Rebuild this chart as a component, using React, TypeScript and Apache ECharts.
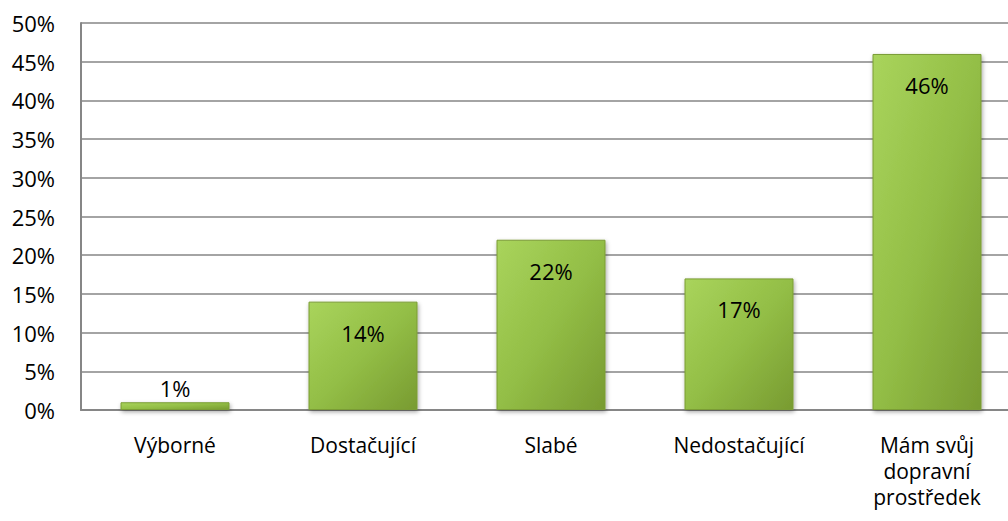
import React, { useEffect, useRef } from "react";
import * as echarts from "echarts";

const categories = ["Výborné", "Dostačující", "Slabé", "Nedostačující", "Mám svůj\ndopravní\nprostředek"];
const values = [1, 14, 22, 17, 46];
const yTicks = [0, 5, 10, 15, 20, 25, 30, 35, 40, 45, 50];

export default function App() {
  const ref = useRef<HTMLDivElement>(null);
  useEffect(() => {
    document.body.style.margin = "0";
    document.body.style.overflow = "hidden";
    const chart = echarts.init(ref.current!, null, { renderer: "svg" });
    const font = "'Open Sans', sans-serif";
    chart.setOption({
      animation: false,
      grid: { left: 81, right: 0, top: 23, bottom: 111, containLabel: false },
      xAxis: {
        type: "category",
        data: categories,
        axisLine: { lineStyle: { color: "#868686", width: 2 } },
        axisTick: { show: false },
        axisLabel: {
          color: "#000",
          fontFamily: font,
          fontSize: 21,
          lineHeight: 26,
          margin: 22,
          interval: 0,
        },
      },
      yAxis: {
        type: "value",
        min: yTicks[0],
        max: yTicks[yTicks.length - 1],
        interval: 5,
        axisLine: { show: true, lineStyle: { color: "#868686", width: 2 } },
        axisTick: { show: false },
        splitLine: { lineStyle: { color: "#868686", width: 1.5 } },
        axisLabel: {
          color: "#000",
          fontFamily: font,
          fontSize: 22,
          margin: 26,
          formatter: (v: number) => v + "%",
        },
      },
      series: [
        {
          type: "bar",
          data: values.map((v) => ({
            value: v,
            label: v < 5 ? { position: "top", distance: 3 } : { position: "insideTop", distance: 20 },
          })),
          barWidth: 109,
          itemStyle: {
            color: new echarts.graphic.LinearGradient(0, 0, 1, 1, [
              { offset: 0, color: "#a9d45c" },
              { offset: 0.5, color: "#93be46" },
              { offset: 1, color: "#789b31" },
            ]),
            borderColor: "#7a9c35",
            borderWidth: 1,
            shadowColor: "rgba(0,0,0,0.35)",
            shadowBlur: 4,
            shadowOffsetY: 2,
            shadowOffsetX: 1,
          },
          label: {
            show: true,
            color: "#000",
            fontFamily: font,
            fontSize: 22,
            formatter: (p: any) => p.value + "%",
          },
        },
      ],
    });
    return () => chart.dispose();
  }, []);
  return (
    <div style={{ width: 1008, height: 521, overflow: "hidden", position: "relative" }}>
      <div ref={ref} style={{ width: 1021, height: 521 }} />
    </div>
  );
}
